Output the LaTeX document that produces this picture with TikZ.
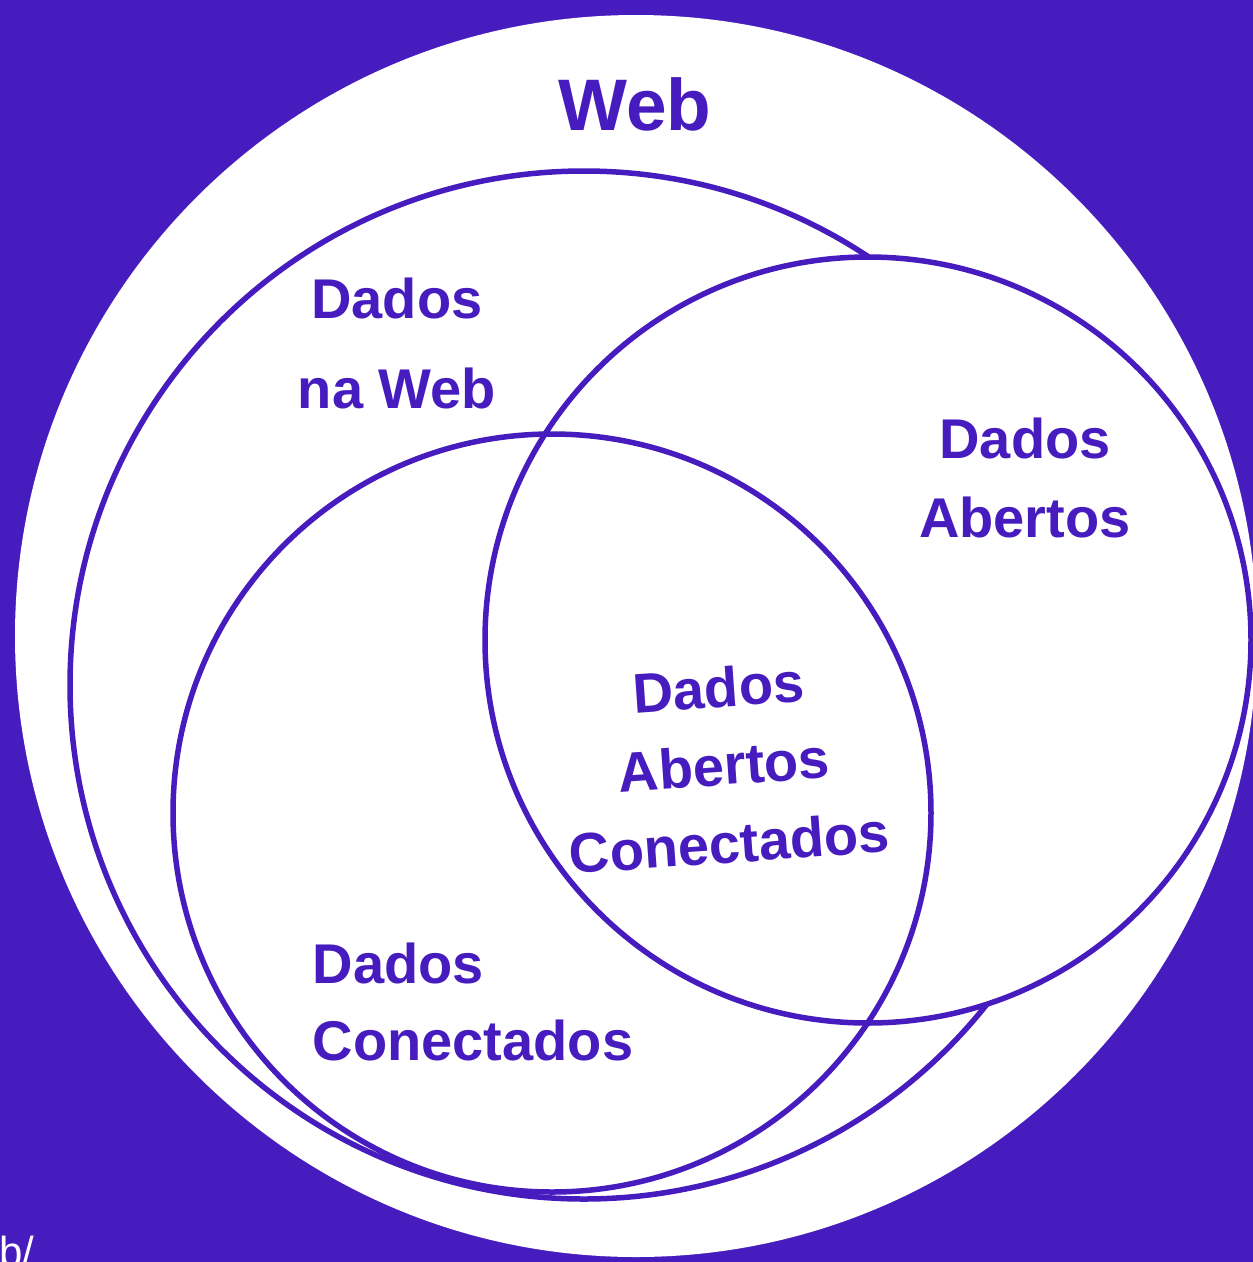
\documentclass[tikz,border=0pt]{standalone}
\usepackage{fontspec}
\setmainfont{Liberation Sans}
\usetikzlibrary{positioning}
\definecolor{webpurple}{RGB}{71,28,191}
\tikzset{
  setring/.style={draw=webpurple, line width=5.5pt},
  setdisc/.style={setring, fill=white},
  setlbl/.style={text=webpurple, inner sep=0pt, align=center,
                 font=\fontsize{56}{78}\selectfont\bfseries},
}

\begin{document}
\begin{tikzpicture}[x=1pt,y=-1pt]
  \useasboundingbox (0,0) rectangle (1253,1262);
  \clip (0,0) rectangle (1253,1262);
  \fill[webpurple] (0,0) rectangle (1253,1262);
  % sets, back to front
  \fill[white] (636,636) circle[radius=621pt];
  \draw[setdisc] (584,685) circle[radius=514pt];
  \draw[setdisc] (868,640) circle[radius=383pt];
  \draw[setring] (552,813) circle[radius=379pt];
  % labels
  \node[setlbl, font=\fontsize{73}{80}\selectfont\bfseries] (web) at (635,104) {Web};
  \node[setlbl, font=\fontsize{56}{90}\selectfont\bfseries] (naweb) at (397,343) {Dados\\na Web};
  \node[setlbl, font=\fontsize{56}{79}\selectfont\bfseries] (abertos) at (1025,478) {Dados\\Abertos};
  \node[setlbl, rotate=4] (dac) at (724,765) {Dados\\Abertos\\Conectados};
  \node[setlbl, align=left, font=\fontsize{56}{77}\selectfont\bfseries] (conect) at (473,1002) {Dados\\Conectados};
  \node[text=white, inner sep=0pt, anchor=base west, font=\fontsize{42}{42}\selectfont] (url) at (-1,1266) {b/};
\end{tikzpicture}
\end{document}
